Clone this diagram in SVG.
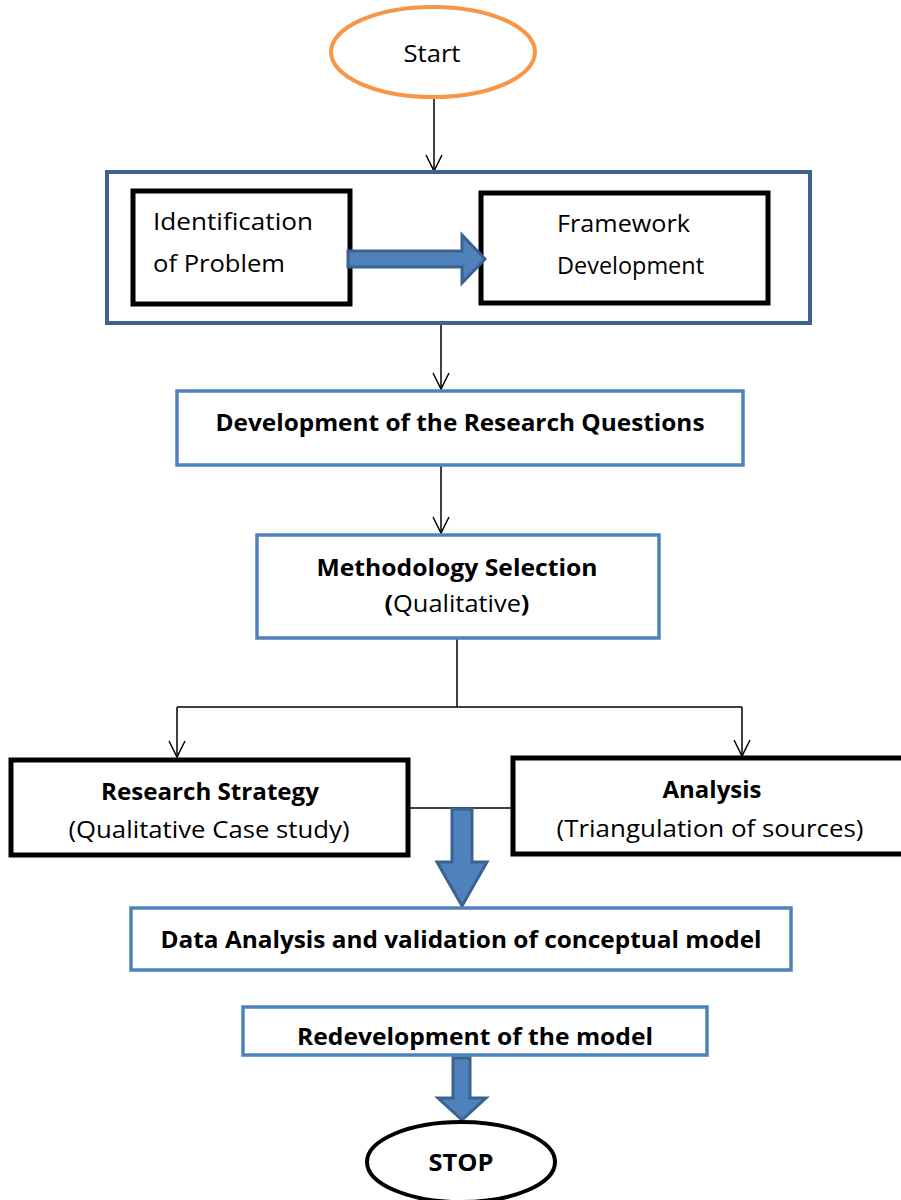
<svg xmlns="http://www.w3.org/2000/svg" width="901" height="1200" viewBox="0 0 901 1200">
<defs>
<style>
.t{font-family:"Open Sans","Liberation Sans",sans-serif;font-size:24px;fill:#000}
.b{font-weight:bold}
.blk{fill:#fff;stroke:#000;stroke-width:5}
.blu{fill:#fff;stroke:#4F81BD;stroke-width:3.5}
.con{fill:none;stroke:#000;stroke-width:1.5}
.blockarrow{fill:#4F81BD;stroke:#3A6290;stroke-width:3}
</style>
<marker id="open" markerWidth="24" markerHeight="24" refX="20" refY="12" viewBox="0 0 24 24" orient="auto" markerUnits="userSpaceOnUse">
<path d="M4 4 L20 12 L4 20" fill="none" stroke="#000" stroke-width="1.5"/>
</marker>
<clipPath id="c1"><rect x="11" y="760" width="397" height="83"/></clipPath>
<clipPath id="c2"><rect x="513" y="758" width="392" height="85"/></clipPath>
<clipPath id="c3"><rect x="243" y="1007" width="464" height="43"/></clipPath>
</defs>
<rect width="901" height="1200" fill="#fff"/>

<g id="connectors">
<line class="con" x1="434" y1="98" x2="434" y2="171" marker-end="url(#open)"/>
<line class="con" x1="441" y1="323" x2="441" y2="389" marker-end="url(#open)"/>
<line class="con" x1="441" y1="465" x2="441" y2="533" marker-end="url(#open)"/>
<polyline class="con" points="457,638 457,707"/>
<polyline class="con" points="177,707 742,707"/>
<line class="con" x1="177" y1="707" x2="177" y2="757" marker-end="url(#open)"/>
<line class="con" x1="742" y1="707" x2="742" y2="756" marker-end="url(#open)"/>
<line class="con" x1="408" y1="808" x2="513" y2="808"/>
</g>

<g id="start">
<ellipse cx="433" cy="52" rx="102" ry="45" fill="#fff" stroke="#F79646" stroke-width="4"/>
<text class="t" x="432" y="62" text-anchor="middle" textLength="57" lengthAdjust="spacingAndGlyphs">Start</text>
</g>

<g id="container">
<rect x="107" y="172" width="703" height="151" fill="#fff" stroke="#3F6291" stroke-width="4"/>
</g>

<g id="identification">
<rect class="blk" x="133" y="191" width="217" height="113"/>
<text class="t" x="153" y="230" textLength="160" lengthAdjust="spacingAndGlyphs">Identification</text>
<text class="t" x="153" y="272" textLength="132" lengthAdjust="spacingAndGlyphs">of Problem</text>
</g>

<g id="framework">
<rect class="blk" x="481" y="193" width="287" height="110"/>
<text class="t" x="557" y="232" textLength="133" lengthAdjust="spacingAndGlyphs">Framework</text>
<text class="t" x="557" y="274" textLength="147" lengthAdjust="spacingAndGlyphs">Development</text>
</g>

<g id="arrow-h">
<path class="blockarrow" d="M348 251 L462 251 L462 235 L485 259 L462 283 L462 267 L348 267 Z"/>
</g>

<g id="questions">
<rect class="blu" x="177" y="391" width="566" height="74"/>
<text class="t b" x="460" y="431" text-anchor="middle" textLength="489" lengthAdjust="spacingAndGlyphs">Development of the Research Questions</text>
</g>

<g id="methodology">
<rect class="blu" x="257" y="535" width="402" height="103"/>
<text class="t b" x="457" y="576" text-anchor="middle" textLength="281" lengthAdjust="spacingAndGlyphs">Methodology Selection</text>
<text class="t" x="457" y="612" text-anchor="middle" textLength="145" lengthAdjust="spacingAndGlyphs"><tspan font-weight="bold">(</tspan>Qualitative<tspan font-weight="bold">)</tspan></text>
</g>

<g id="strategy">
<rect class="blk" x="11" y="760" width="397" height="95"/>
<text class="t b" x="210" y="800" text-anchor="middle" textLength="218" lengthAdjust="spacingAndGlyphs">Research Strategy</text>
<g clip-path="url(#c1)"><text class="t" x="209" y="838" text-anchor="middle" textLength="281" lengthAdjust="spacingAndGlyphs">(Qualitative Case study)</text></g>
</g>

<g id="analysis">
<rect class="blk" x="513" y="758" width="392" height="96"/>
<text class="t b" x="712" y="798" text-anchor="middle" textLength="99" lengthAdjust="spacingAndGlyphs">Analysis</text>
<g clip-path="url(#c2)"><text class="t" x="710" y="837" text-anchor="middle" textLength="307" lengthAdjust="spacingAndGlyphs">(Triangulation of sources)</text></g>
</g>

<g id="arrow-down1">
<path class="blockarrow" d="M452 809 L472 809 L472 862 L487 862 L462 906 L437 862 L452 862 Z"/>
</g>

<g id="data-analysis">
<rect class="blu" x="131" y="908" width="660" height="62"/>
<text class="t b" x="461" y="948" text-anchor="middle" textLength="601" lengthAdjust="spacingAndGlyphs">Data Analysis and validation of conceptual model</text>
</g>

<g id="redevelopment">
<rect class="blu" x="243" y="1007" width="464" height="48"/>
<g clip-path="url(#c3)"><text class="t b" x="475" y="1045" text-anchor="middle" textLength="356" lengthAdjust="spacingAndGlyphs">Redevelopment of the model</text></g>
</g>

<g id="arrow-down2">
<path class="blockarrow" d="M453 1058 L470 1058 L470 1098 L486 1098 L462 1120 L438 1098 L453 1098 Z"/>
</g>

<g id="stop">
<ellipse cx="461" cy="1162" rx="94" ry="40" fill="#fff" stroke="#000" stroke-width="4"/>
<text class="t b" x="461" y="1171" text-anchor="middle" textLength="65" lengthAdjust="spacingAndGlyphs">STOP</text>
</g>
</svg>
